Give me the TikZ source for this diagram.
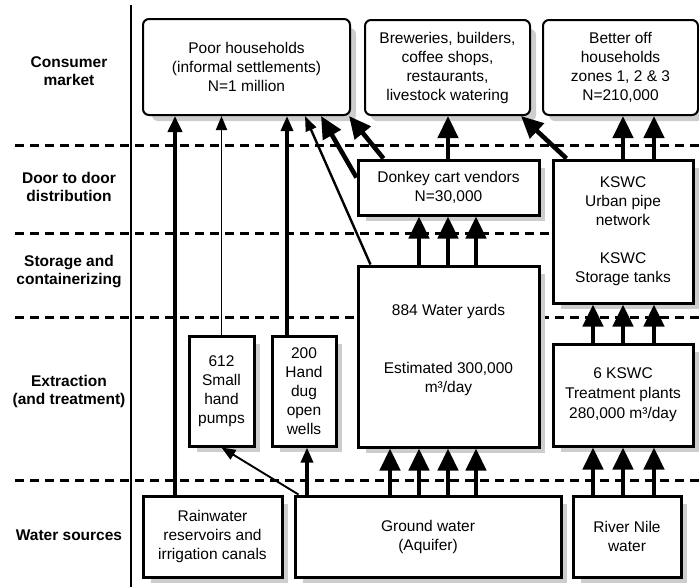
\documentclass[tikz,border=0pt]{standalone}
\usepackage{fontspec}
\setmainfont{Liberation Sans}
\usetikzlibrary{arrows.meta,calc}

\definecolor{shadowgray}{RGB}{205,205,205}

\begin{document}
\begin{tikzpicture}[x=1pt,y=-1pt,
  box/.style={draw,line width=3pt,fill=white,align=center,inner sep=0pt,
    font=\fontsize{15.5}{19}\selectfont},
  market/.style={draw,line width=2pt,rounded corners=6pt,fill=white,align=center,inner sep=0pt,
    font=\fontsize{15.5}{19}\selectfont},
  shadowbox/.style={fill=shadowgray,draw=none},
  txt/.style={align=center,inner sep=0pt,font=\fontsize{15.5}{19}\selectfont},
  lab/.style={align=center,inner sep=0pt,font=\fontsize{15.5}{18}\selectfont\bfseries},
  tier/.style={line width=3pt,dash pattern=on 9pt off 6pt},
  bigarr/.style={line width=4.6pt,-{Triangle[length=22pt,width=20pt]}},
  rainarr/.style={line width=3.8pt,-{Triangle[length=16pt,width=14pt]}},
  medarr/.style={line width=3.3pt,-{Triangle[length=15pt,width=12pt]}},
  diagarr/.style={line width=2.4pt,-{Triangle[length=15pt,width=11pt]}},
  thinarr/.style={line width=1.9pt,-{Triangle[length=14pt,width=11pt]}}
]
\useasboundingbox (0,0) rectangle (699,587);

% tier separators and label column rule
\coordinate (dl1) at (15,145);  \coordinate (dr1) at (699,145);
\coordinate (dl2) at (15,233);  \coordinate (dr2) at (699,233);
\coordinate (dl3) at (15,317);  \coordinate (dr3) at (699,317);
\coordinate (dl4) at (15,480);  \coordinate (dr4) at (699,480);
\draw[tier] (dl1) -- (dr1);
\draw[tier] (dl2) -- (dr2);
\draw[tier] (dl3) -- (dr3);
\draw[tier] (dl4) -- (dr4);
\coordinate (vtop) at (131,5); \coordinate (vbot) at (131,587);
\draw[line width=2pt] (vtop) -- (vbot);

% box shadows, drawn first so the boxes cover them
\fill[shadowbox,rounded corners=6pt] (152,28) rectangle (356,121);
\fill[shadowbox,rounded corners=6pt] (371,29) rectangle (536,121);
\fill[shadowbox,rounded corners=6pt] (549,29) rectangle (703,121);
\fill[shadowbox] (366,168) rectangle (545,221);
\fill[shadowbox] (561,168) rectangle (699,309);
\fill[shadowbox] (366,274) rectangle (545,453);
\fill[shadowbox] (561,352) rectangle (699,452);
\fill[shadowbox] (197,344) rectangle (260,452);
\fill[shadowbox] (280,344) rectangle (342,452);
\fill[shadowbox] (151,504) rectangle (288,583);
\fill[shadowbox] (303,504) rectangle (567,583);
\fill[shadowbox] (581,504) rectangle (687,583);

% tier labels
\node[lab] (lcons)  at (69,71)  {Consumer\\market};
\node[lab] (ldoor)  at (69,187) {Door to door\\distribution};
\node[lab] (lstore) at (69,272) {Storage and\\containerizing};
\node[lab] (lext)   at (69,391) {Extraction\\(and treatment)};
\node[lab] (lsrc)   at (69,535) {Water sources};

% consumer market
\node[market,minimum width=207pt,minimum height=96pt] (poor) at (246.5,67)
  {Poor households\\(informal settlements)\\N=1 million};
\node[market,minimum width=165pt,minimum height=95pt] (brew) at (447.5,67.5)
  {Breweries, builders,\\coffee shops,\\restaurants,\\livestock watering};
\node[market,minimum width=155pt,minimum height=95pt] (better) at (620.5,67.5)
  {Better off\\households\\zones 1, 2 \& 3\\N=210,000};

% distribution, storage, extraction
\node[box,minimum width=181pt,minimum height=55pt] (donkey) at (448.5,187.5)
  {Donkey cart vendors\\N=30,000};
\node[box,minimum width=140pt,minimum height=143pt] (kswc) at (623,231.5)
  {KSWC\\Urban pipe\\network\\[19pt]KSWC\\Storage tanks};
\node[box,minimum width=181pt,minimum height=181pt] (yards) at (448.5,356.5) {};
\node[txt] (yardstext) at ([yshift=7pt]yards.center)
  {884 Water yards\\[39pt]Estimated 300,000\\m³/day};
\node[box,minimum width=140pt,minimum height=102pt] (plants) at (623,395)
  {6 KSWC\\[1pt]Treatment plants\\[1pt]280,000 m³/day};
\node[box,minimum width=65pt,minimum height=110pt] (pumps) at (221.5,391)
  {612\\Small\\hand\\pumps};
\node[box,minimum width=64pt,minimum height=110pt] (wells) at (304,391)
  {200\\Hand\\dug\\open\\wells};

% water sources
\node[box,minimum width=139pt,minimum height=81pt] (rain) at (212.5,536.5)
  {Rainwater\\reservoirs and\\irrigation canals};
\node[box,minimum width=266pt,minimum height=81pt] (ground) at (428,536.5)
  {Ground water\\(Aquifer)};
\node[box,minimum width=108pt,minimum height=81pt] (nile) at (627,536.5)
  {River Nile\\water};

% flow columns
\coordinate (xr) at (175,0);
\coordinate (xw) at (287,0);
\coordinate (xg) at (307,0);
\coordinate (xa) at (390,0);
\coordinate (xb) at (419,0);
\coordinate (xc) at (448,0);
\coordinate (xd) at (476,0);
\coordinate (xe) at (593,0);
\coordinate (xf) at (623,0);
\coordinate (xh) at (654,0);

% supplies to poor households
\draw[rainarr] (rain.north -| xr) -- (poor.south -| xr);
\draw[thinarr] (pumps.north) -- (poor.south -| pumps.north);
\draw[medarr] (wells.north -| xw) -- (poor.south -| xw);
\draw[diagarr] ([xshift=14pt]yards.north west) -- ([xshift=163pt]poor.south west);
\draw[bigarr] ([yshift=10pt]donkey.west) -- ([xshift=179pt]poor.south west);
\draw[bigarr] ([xshift=27pt]donkey.north west) -- ([xshift=-2pt]poor.south east);

% supplies to businesses and better off households
\draw[bigarr] (donkey.north -| xc) -- (brew.south -| xc);
\draw[bigarr] ([xshift=15pt]kswc.north west) -- ([xshift=-10pt]brew.south east);
\draw[bigarr] (kswc.north -| xf) -- (better.south -| xf);
\draw[bigarr] (kswc.north -| xh) -- (better.south -| xh);

% water yards to vendors, plants to storage
\draw[bigarr] (yards.north -| xb) -- (donkey.south -| xb);
\draw[bigarr] (yards.north -| xc) -- (donkey.south -| xc);
\draw[bigarr] (yards.north -| xd) -- (donkey.south -| xd);
\draw[bigarr] (plants.north -| xe) -- (kswc.south -| xe);
\draw[bigarr] (plants.north -| xf) -- (kswc.south -| xf);
\draw[bigarr] (plants.north -| xh) -- (kswc.south -| xh);

% sources to extraction
\draw[bigarr] (ground.north -| xa) -- (yards.south -| xa);
\draw[bigarr] (ground.north -| xb) -- (yards.south -| xb);
\draw[bigarr] (ground.north -| xc) -- (yards.south -| xc);
\draw[bigarr] (ground.north -| xd) -- (yards.south -| xd);
\draw[bigarr] (nile.north -| xe) -- (plants.south -| xe);
\draw[bigarr] (nile.north -| xf) -- (plants.south -| xf);
\draw[bigarr] (nile.north -| xh) -- (plants.south -| xh);
\draw[medarr] (ground.north -| xg) -- (wells.south -| xg);
\draw[thinarr] ([xshift=5pt]ground.north west) -- (pumps.south);
\end{tikzpicture}
\end{document}
